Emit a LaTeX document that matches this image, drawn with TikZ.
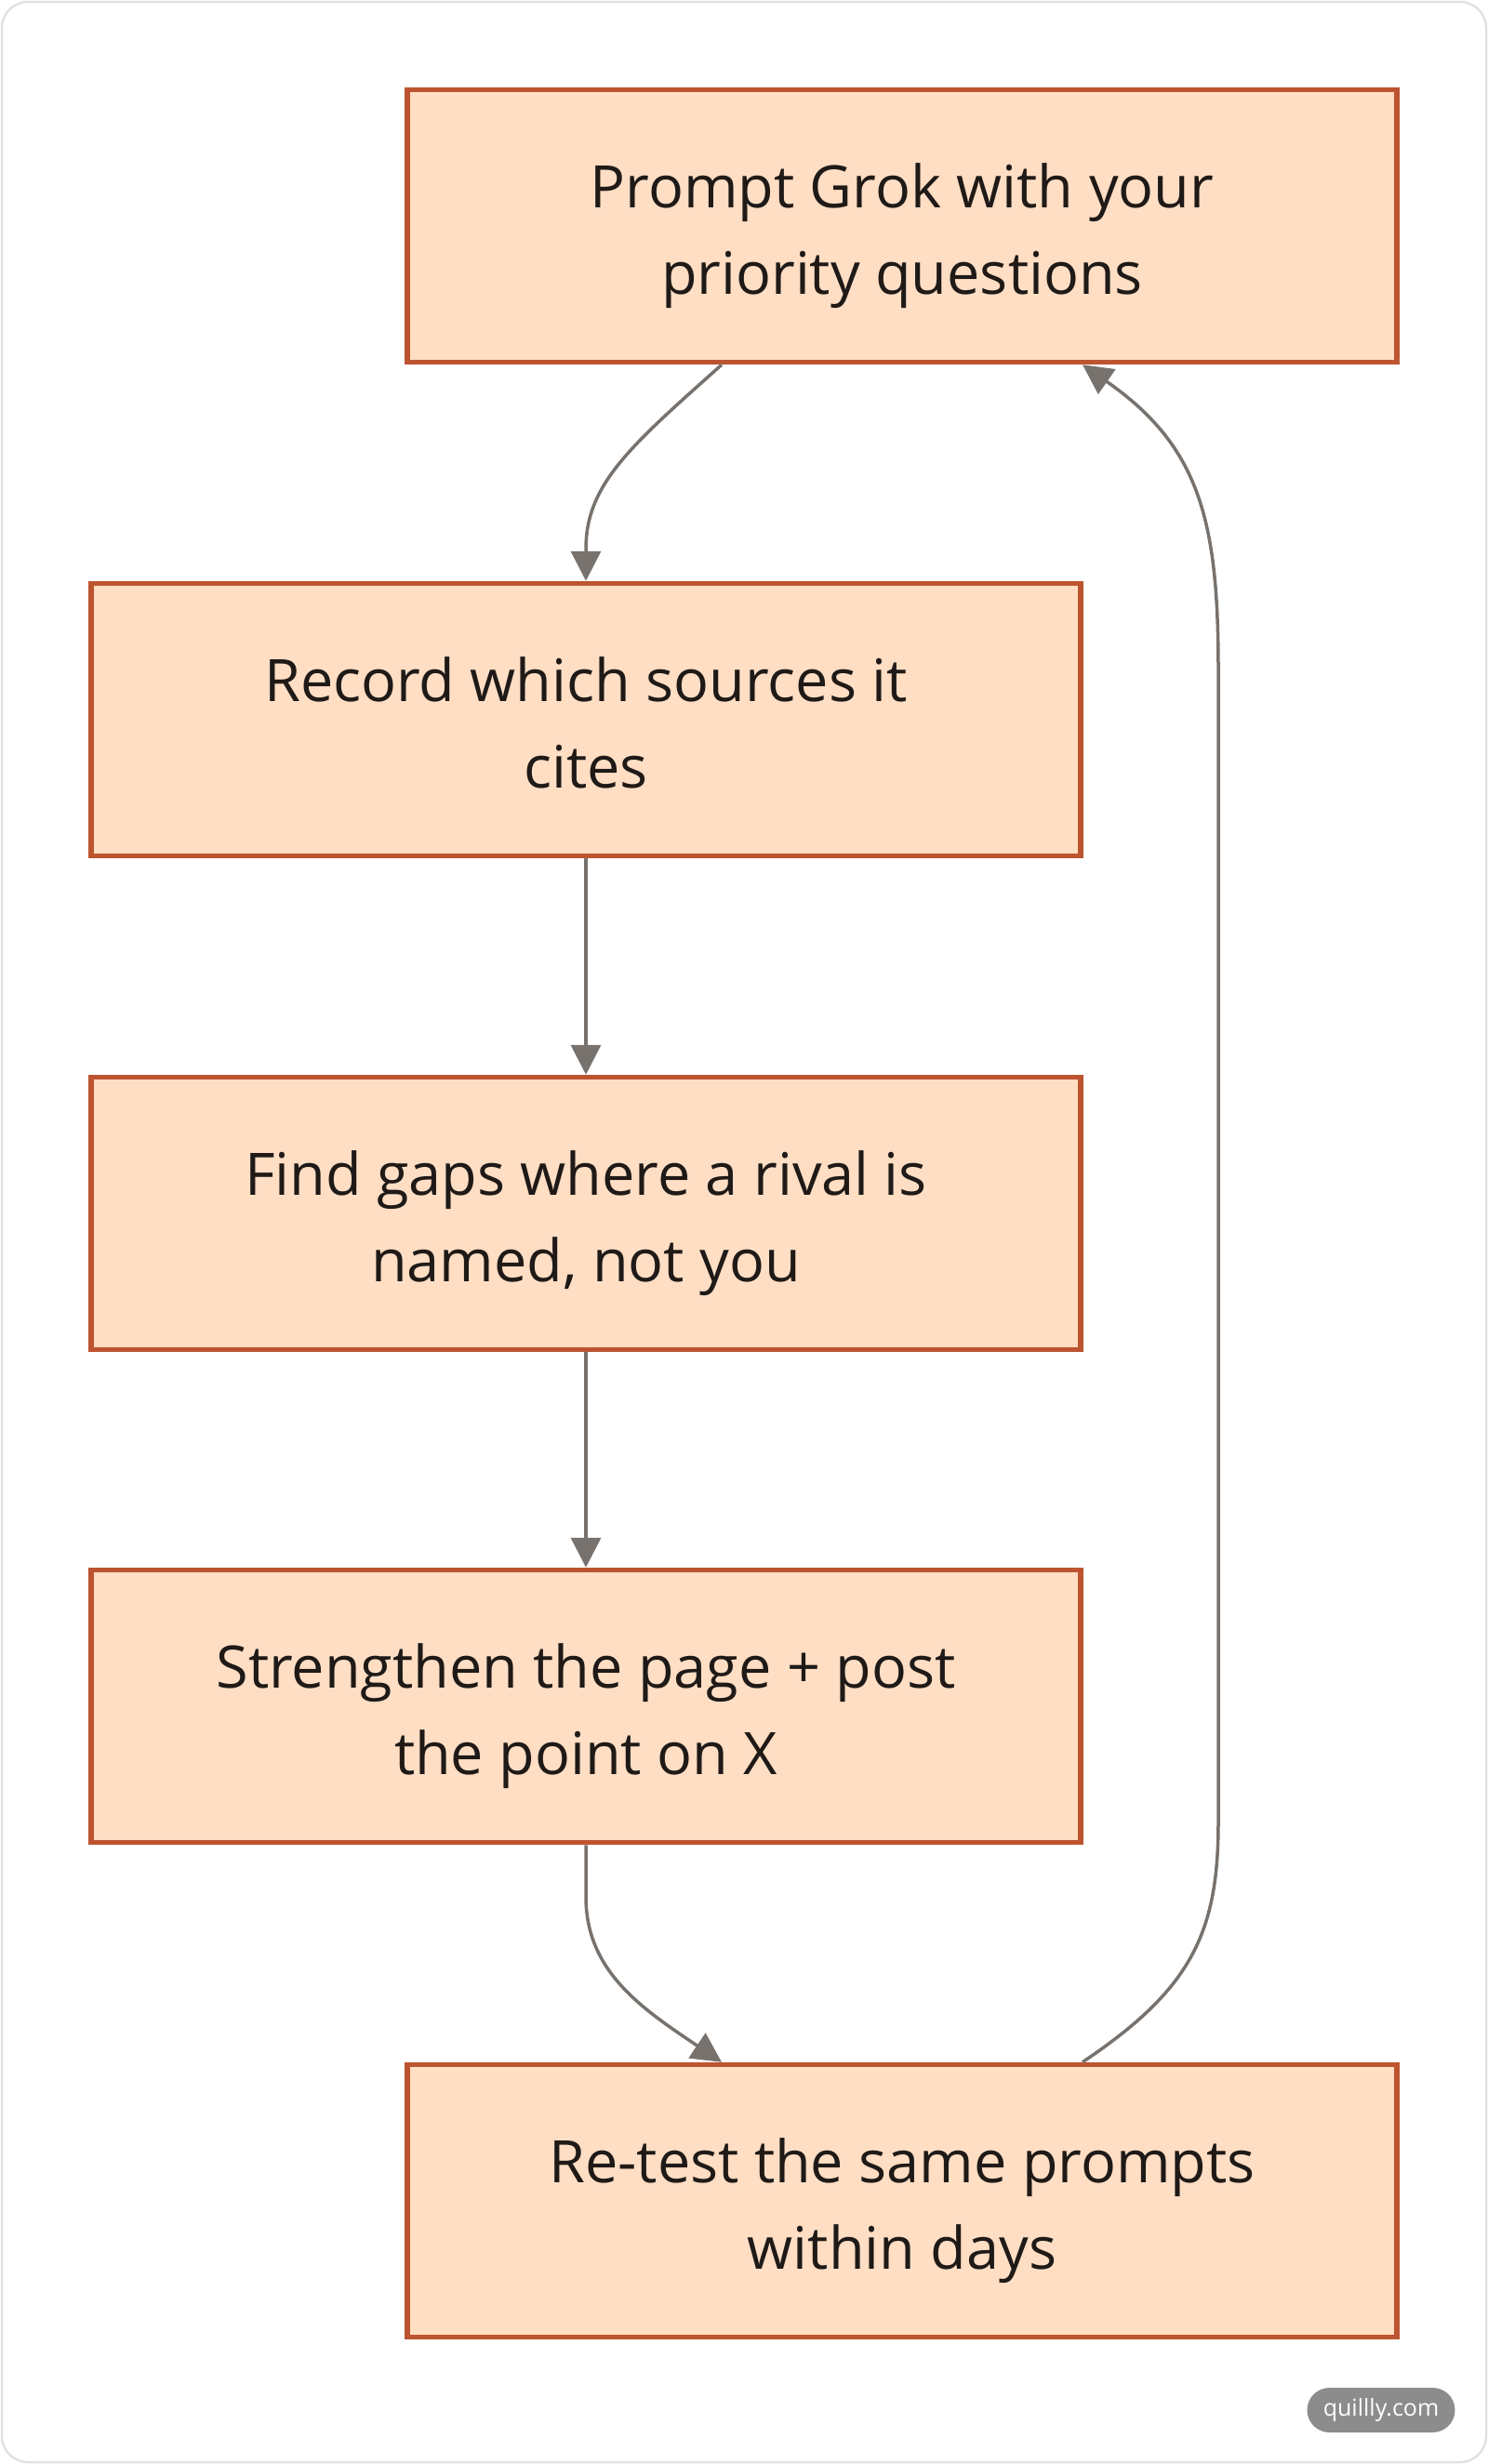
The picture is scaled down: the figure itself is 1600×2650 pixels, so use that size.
\documentclass[tikz,border=0pt]{standalone}
\usepackage{fontspec}
\setmainfont{Open Sans}
\usetikzlibrary{arrows.meta}
\definecolor{boxfill}{HTML}{FFDEC4}
\definecolor{boxline}{HTML}{BD5430}
\definecolor{edgecol}{HTML}{77726D}
\definecolor{txtcol}{HTML}{1F1A17}
\definecolor{framecol}{HTML}{E2E2E2}
\definecolor{pillcol}{HTML}{8C8C8C}
\newcommand{\twoline}[2]{\raisebox{-8pt}[\height][\depth]{\begin{tabular}{@{}c@{}}#1\\#2\end{tabular}}}
\tikzset{
  stepbox/.style={draw=boxline, fill=boxfill, line width=5.5pt, minimum width=1064pt, minimum height=293pt,
    inner sep=0pt, align=center, text=txtcol, font=\fontsize{63}{93}\selectfont},
  flow/.style={draw=edgecol, line width=3.5pt, -{Triangle[length=32pt,width=32pt]}},
}
\begin{document}
\begin{tikzpicture}[x=1pt,y=-1pt]
\useasboundingbox (0,0) rectangle (1600,2650);
\draw[framecol, line width=2.5pt, rounded corners=28pt] (2,2) rectangle (1598,2648);

\node[stepbox] (a) at (970,243) {\twoline{Prompt Grok with your}{priority questions}};
\node[stepbox] (b) at (630,774) {\twoline{Record which sources it}{cites}};
\node[stepbox] (c) at (630,1305) {\twoline{Find gaps where a rival is}{named, not you}};
\node[stepbox] (d) at (630,1835) {\twoline{Strengthen the page + post}{the point on X}};
\node[stepbox] (e) at (970,2367) {\twoline{Re-test the same prompts}{within days}};

\coordinate (a1) at ([xshift=-194pt]a.south);
\coordinate (a2) at ([xshift=194pt]a.south);
\coordinate (e1) at ([xshift=-194pt]e.north);
\coordinate (e2) at ([xshift=194pt]e.north);

\draw[flow] (a1) .. controls (680,478) and (630,520) .. (630,590) -- (b.north);
\draw[flow] (b.south) -- (c.north);
\draw[flow] (c.south) -- (d.north);
\draw[flow] (d.south) -- (630,2040) .. controls (630,2120) and (690,2160) .. (e1);
\draw[flow] (e2) .. controls (1280,2140) and (1310,2080) .. (1310,1960) -- (1310,720) .. controls (1310,560) and (1290,480) .. (a2);

\node[fill=pillcol, rounded corners=24pt, minimum width=159pt, minimum height=48pt, inner sep=0pt,
  text=white, font=\fontsize{25}{28}\selectfont] (wm) at (1485,2592) {quillly.com};
\end{tikzpicture}
\end{document}
